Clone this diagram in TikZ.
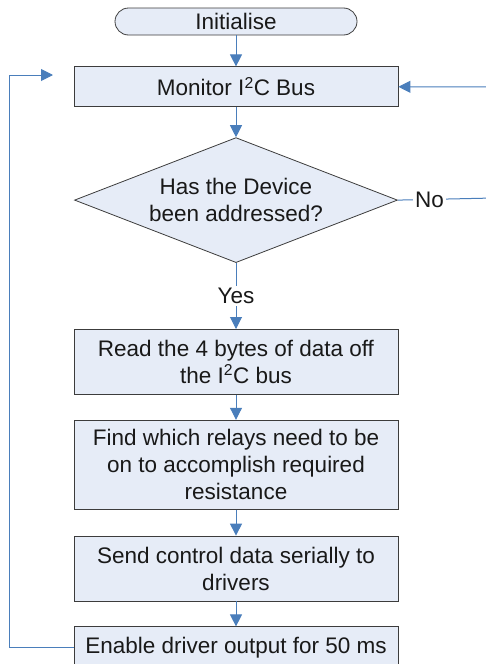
\documentclass[tikz,border=0pt]{standalone}
\usepackage{fontspec}
\setmainfont{Liberation Sans}
\usetikzlibrary{shapes.geometric,arrows.meta,positioning}
\definecolor{boxfill}{HTML}{E6ECF7}
\definecolor{flow}{HTML}{4A7EBB}
\definecolor{edge}{HTML}{3C3C3C}

\begin{document}
\begin{tikzpicture}[x=1pt,y=-1pt,font=\fontsize{22.5}{27}\selectfont,text=black!90,
  term/.style={draw=edge,fill=boxfill,line width=0.8pt,rounded corners=13.5pt,minimum width=242pt,minimum height=27pt,inner sep=0pt},
  proc/.style={draw=edge,fill=boxfill,line width=0.8pt,minimum width=324pt,align=center,inner sep=0pt},
  dec/.style={diamond,draw=edge,fill=boxfill,line width=0.8pt,aspect=2.6,minimum width=323pt,minimum height=125pt,inner sep=0pt,align=center},
  arr/.style={-{Triangle[width=12pt,length=12pt]},flow,line width=1pt},
  lbl/.style={fill=white,text=black!90,inner sep=2pt}]
\useasboundingbox (0,0) rectangle (486,664);
\node[term] (init) at (236,21.5) {Initialise};
\node[proc,minimum height=40pt,below=31pt of init] (mon) {Monitor I\textsuperscript{2}C Bus};
\node[dec,below=30pt of mon] (dev) {Has the Device\\been addressed?};
\node[proc,minimum height=65pt,below=66pt of dev] (read) {Read the 4 bytes of data off\\the I\textsuperscript{2}C bus};
\node[proc,minimum height=89pt,below=25pt of read] (find) {Find which relays need to be\\on to accomplish required\\resistance};
\node[proc,minimum height=65pt,below=26pt of find] (send) {Send control data serially to\\drivers};
\node[proc,minimum height=41pt,below=25pt of send] (enab) {Enable driver output for 50 ms};
\coordinate (back) at (53,75);
\coordinate (rside) at (494,198);
\draw[arr] (init)--(mon);
\draw[arr] (mon)--(dev);
\draw[arr] (dev)--node[lbl]{Yes}(read);
\draw[arr] (read)--(find);
\draw[arr] (find)--(send);
\draw[arr] (send)--(enab);
\draw[arr] (enab.west) -- ++(-64,0) |- (back);
\draw[arr] (dev.east) -- node[lbl,pos=0.33]{No} (rside) |- (mon.east);
\end{tikzpicture}
\end{document}
